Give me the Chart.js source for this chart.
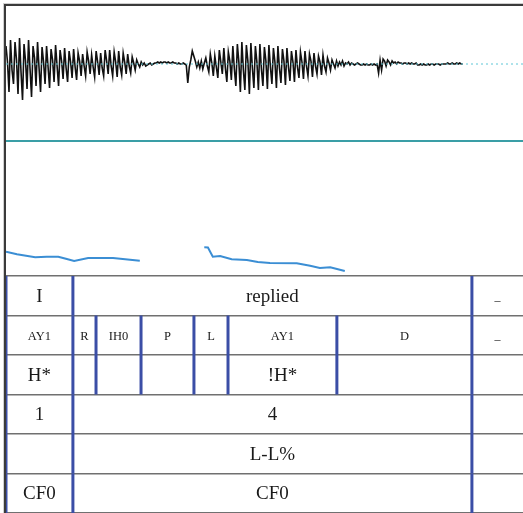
<!DOCTYPE html>
<html>
<head>
<meta charset="utf-8">
<title>I replied</title>
<script src="https://cdn.jsdelivr.net/npm/chart.js@4.4.1/dist/chart.umd.min.js"></script>
<style>
  html, body { margin: 0; padding: 0; background: #fff; }
  #caja { position: relative; width: 523px; height: 513px; }
</style>
</head>
<body>
<div id="caja"><canvas id="grafica" width="523" height="513"></canvas></div>
<script>
// time axis, seconds
var tMax = 0.85;

// waveform (one sample every waveStep seconds, amplitude in arbitrary units)
var waveStep = 0.00247;
var waveValues = [
  18, 2, -28, 24, -6, -20, 22, 4, -30, 26, -8, -36, 20, 3, -25, 24, -5, -33,
  18, 6, -22, 22, -4, -28, 17, 2, -20, 18, -3, -24, 15, 4, -18, 19, -2, -22,
  14, 3, -15, 16, -4, -18, 13, 2, -14, 15, -3, -16, 11, 3, -12, 10, -2, -12,
  12, 3, -10, 9, -3, -13, 13, 2, -11, 11, -4, -12, 14, 3, -10, 14, -2, -12,
  12, 2, -13, 13, -3, -11, 11, 2, -10, 10, -2, -9, 7, 1, -6, 4, 0, -3,
  2, -1, 1, -2, -1, 0, 1, -1, 0, 1, 1, 2, 1, 2, 1, 2, 2, 1, 2, 1, 1, 2, 1, 1, 0, 1, 0, 0, 1, 0, -1,
  -19, -3, 4, 13, 8, 3, -3, 2, -4, 3, -5, 1,
  6, -2, -8, 10, 1, -12, 8, -3, -14, 14, 2, -10, 16, -4, -18, 12, 3, -16,
  18, -5, -22, 20, 2, -28, 22, -6, -26, 19, 3, -30, 21, -4, -24, 18, 2, -26,
  20, -5, -22, 17, 3, -25, 19, -3, -20, 16, 2, -24, 18, -4, -19, 15, 3, -21,
  16, -3, -17, 13, 2, -18, 14, -3, -14, 12, 2, -15, 13, -2, -12, 10, 3, -13,
  11, -2, -10, 8, 2, -11, 9, -2, -8, 6, 1, -6, 4, 0, -4,
  3, -2, 2, -1, 3, -2, 1, 0, 2, -1, 1, 0, -1, 0, 1, 0, -1, -1, 0, -1, 0, -1, -1, 0, -1, 0, -1, 0,
  -9, 4, -6, 5, 3, -2, 4, 2, -1, 3, 1, 2, 0, 2, 1, 1, 0, 1, 1, 0, 1, 0, 1, 0, 0, 1,
  -1, -1, 0, -1, 0, -1, -1, 0, -1, 0, 0, -1, 0, 0, 0, -1, 0, 0, 0, 0, 1, 0, 0, 1, 0, 0, 1, 0, 1, 0, 0
];

// pitch track (Hz), null = unvoiced gap
var pitchTimes = [0.000, 0.018, 0.048, 0.067, 0.086, 0.100, 0.112, 0.135, 0.176, 0.192, 0.220,
                  0.270,
                  0.326, 0.332, 0.340, 0.352, 0.371, 0.396, 0.414, 0.434, 0.478, 0.500, 0.516, 0.533, 0.557];
var pitchHz = [151.5, 143.3, 134.0, 135.8, 135.8, 128.5, 122.2, 131.7, 131.7, 128.5, 123.2,
               null,
               165.3, 165.0, 135.8, 138.0, 127.6, 125.4, 119.1, 115.9, 115.0, 107.4, 100.2, 102.4, 90.7];

// annotation tiers
var tierNames = ['words', 'phones', 'tones', 'breaks', 'phrase', 'misc'];
var wordBounds = [0, 0.110, 0.766, 0.85];
var wordLabels = ['I', 'replied', '_'];
var phoneBounds = [0, 0.110, 0.148, 0.222, 0.309, 0.365, 0.544, 0.766, 0.85];
var phoneLabels = ['AY1', 'R', 'IH0', 'P', 'L', 'AY1', 'D', '_'];
var toneLabels = ['H*', '', '', '', '', '!H*', '', ''];
var breakLabels = ['1', '4', ''];
var phraseLabels = ['', 'L-L%', ''];
var miscLabels = ['CF0', 'CF0', ''];

var tiers = [
  { bounds: wordBounds, labels: wordLabels, size: 19 },
  { bounds: phoneBounds, labels: phoneLabels, size: 12.5 },
  { bounds: phoneBounds, labels: toneLabels, size: 19 },
  { bounds: wordBounds, labels: breakLabels, size: 19 },
  { bounds: wordBounds, labels: phraseLabels, size: 19 },
  { bounds: wordBounds, labels: miscLabels, size: 19 }
];

var wavePts = waveValues.map(function(v, i){ return { x: i * waveStep, y: v }; });
var pitchPts = pitchTimes.map(function(t, i){ return { x: t, y: pitchHz[i] }; });

// frame, separators, tier boundaries and labels
var marcos = {
  id: 'marcos',
  afterDatasetsDraw: function(chart){
    var ctx = chart.ctx;
    var x = chart.scales.x, yW = chart.scales.yWave, yT = chart.scales.yTier;
    var area = chart.chartArea;
    ctx.save();

    // teal line under the waveform
    ctx.fillStyle = '#3a9ea6';
    ctx.fillRect(area.left, yW.bottom - 1, area.right - area.left, 2);

    // tiers
    var h = (yT.bottom - yT.top) / tiers.length;
    tiers.forEach(function(tier, i){
      var yc = yT.getPixelForValue(i);
      var top = yc - h / 2, bot = yc + h / 2;
      ctx.strokeStyle = '#3b4ea6';
      ctx.lineWidth = 3;
      tier.bounds.forEach(function(b){
        if (b >= x.max) return;
        var px = x.getPixelForValue(b);
        ctx.beginPath();
        ctx.moveTo(px, top);
        ctx.lineTo(px, bot);
        ctx.stroke();
      });
      ctx.fillStyle = '#1a1a1a';
      ctx.textAlign = 'center';
      ctx.textBaseline = 'middle';
      tier.labels.forEach(function(lab, k){
        if (!lab) return;
        // the "_" placeholder is drawn small
        var size = lab === '_' ? 12 : tier.size;
        ctx.font = size + 'px "Liberation Serif", "Times New Roman", serif';
        var mid = (x.getPixelForValue(tier.bounds[k]) + x.getPixelForValue(tier.bounds[k + 1])) / 2;
        ctx.fillText(lab, mid, yc + 1);
      });
    });

    // outer frame, left and top
    ctx.fillStyle = '#cfcfcf';
    ctx.fillRect(3, 3, chart.width, 1);
    ctx.fillRect(3, 3, 1, chart.height);
    ctx.fillStyle = '#3a3a3a';
    ctx.fillRect(4, 4, chart.width, 2);
    ctx.fillRect(4, 4, 2, chart.height);
    ctx.restore();
  }
};

var ctx = document.getElementById('grafica');
var myChart = new Chart(ctx, {
  type: 'line',
  data: {
    datasets: [
      {
        label: 'cero',
        data: [{ x: 0, y: 0 }, { x: tMax, y: 0 }],
        yAxisID: 'yWave',
        borderColor: '#5cc6d6',
        borderWidth: 1,
        borderDash: [2, 3],
        pointRadius: 0
      },
      {
        label: 'onda',
        data: wavePts,
        yAxisID: 'yWave',
        borderColor: '#111111',
        borderWidth: 1.6,
        pointRadius: 0,
        tension: 0
      },
      {
        label: 'F0',
        data: pitchPts,
        yAxisID: 'yPitch',
        borderColor: '#3b8ed4',
        borderWidth: 2,
        pointRadius: 0,
        spanGaps: false,
        tension: 0
      }
    ]
  },
  options: {
    responsive: false,
    animation: false,
    events: [],
    layout: { padding: { left: 6, top: 6, right: 0, bottom: 0 } },
    plugins: { legend: { display: false }, tooltip: { enabled: false } },
    scales: {
      x: { type: 'linear', min: 0, max: tMax, display: false },
      // stacked panels are placed from the bottom up
      yTier: {
        type: 'category', position: 'left', stack: 'panel', stackWeight: 237,
        labels: tierNames, offset: true,
        ticks: { display: false },
        border: { display: false },
        grid: { offset: true, drawTicks: false, color: '#707070', lineWidth: 1.5 }
      },
      yPitch: {
        type: 'linear', position: 'left', stack: 'panel', stackWeight: 135,
        min: 75, max: 500, display: false
      },
      yWave: {
        type: 'linear', position: 'left', stack: 'panel', stackWeight: 135,
        min: -77, max: 58, display: false
      }
    }
  },
  plugins: [marcos]
});
</script>
</body>
</html>
